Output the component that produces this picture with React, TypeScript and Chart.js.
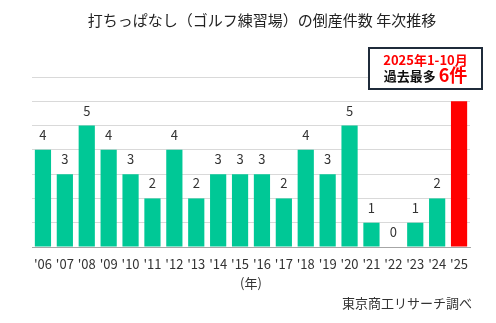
import React, { useEffect, useRef } from "react";
import { Chart, registerables } from "chart.js";

Chart.register(...registerables);

const categories = ["'06", "'07", "'08", "'09", "'10", "'11", "'12", "'13", "'14", "'15", "'16", "'17", "'18", "'19", "'20", "'21", "'22", "'23", "'24", "'25"];
const values = [4, 3, 5, 4, 3, 2, 4, 2, 3, 3, 3, 2, 4, 3, 5, 1, 0, 1, 2, 6];
const titleText = "打ちっぱなし（ゴルフ練習場）の倒産件数 年次推移";
const noteLine1 = "2025年1-10月";
const noteLine2a = "過去最多 ";
const noteLine2b = "6件";
const axisUnit = "(年)";
const sourceText = "東京商工リサーチ調べ";

const FONT = '"Noto Sans CJK JP", "Noto Sans", sans-serif';
const GREEN = "#00c896";
const RED = "#ff0000";

const overlayPlugin = {
  id: "overlay",
  afterDatasetsDraw(chart: any) {
    const ctx = chart.ctx;
    const area = chart.chartArea;
    const meta = chart.getDatasetMeta(0);
    ctx.save();
    // data labels
    ctx.fillStyle = "#333333";
    ctx.font = `13px ${FONT}`;
    ctx.textAlign = "center";
    ctx.textBaseline = "middle";
    meta.data.forEach((bar: any, i: number) => {
      if (i === values.length - 1) return;
      ctx.fillText(String(values[i]), bar.x, bar.y - 15);
    });
    ctx.restore();
  },
  afterDraw(chart: any) {
    const ctx = chart.ctx;
    const area = chart.chartArea;
    const w = chart.width;
    ctx.save();
    // title
    ctx.fillStyle = "#222222";
    ctx.font = `15px ${FONT}`;
    ctx.textAlign = "center";
    ctx.textBaseline = "middle";
    ctx.fillText(titleText, 262, 20);

    // unit label
    ctx.font = `13px ${FONT}`;
    ctx.fillStyle = "#333333";
    ctx.fillText(axisUnit, (area.left + area.right) / 2, 283);

    // source
    ctx.textAlign = "right";
    ctx.fillText(sourceText, area.right + 2, 303);

    // annotation box
    const bx = 369, by = 48, bw = 113, bh = 41;
    ctx.fillStyle = "#ffffff";
    ctx.fillRect(bx, by, bw, bh);
    ctx.strokeStyle = "#1f2b3a";
    ctx.lineWidth = 2;
    ctx.strokeRect(bx, by, bw, bh);
    const cx = bx + bw / 2;
    ctx.textAlign = "center";
    ctx.fillStyle = RED;
    ctx.font = `bold 13px ${FONT}`;
    ctx.fillText(noteLine1, cx, 60);
    ctx.font = `bold 13px ${FONT}`;
    const wa = ctx.measureText(noteLine2a).width;
    ctx.font = `bold 18px ${FONT}`;
    const wb = ctx.measureText(noteLine2b).width;
    const start = cx - (wa + wb) / 2;
    ctx.textAlign = "left";
    ctx.textBaseline = "alphabetic";
    ctx.fillStyle = "#111111";
    ctx.font = `bold 13px ${FONT}`;
    ctx.fillText(noteLine2a, start, 81);
    ctx.fillStyle = RED;
    ctx.font = `bold 18px ${FONT}`;
    ctx.fillText(noteLine2b, start + wa, 82);
    ctx.restore();
  },
};

export default function App() {
  const ref = useRef<HTMLCanvasElement | null>(null);
  useEffect(() => {
    document.body.style.margin = "0";
    const chart = new Chart(ref.current as HTMLCanvasElement, {
      type: "bar",
      data: {
        labels: categories,
        datasets: [
          {
            data: values,
            backgroundColor: values.map((_, i) => (i === values.length - 1 ? RED : GREEN)),
            barPercentage: 0.74,
            categoryPercentage: 1,
          },
        ],
      },
      options: {
        animation: false,
        responsive: false,
        maintainAspectRatio: false,
        layout: { padding: { left: 32, right: 26, top: 77, bottom: 0 } },
        plugins: {
          legend: { display: false },
          title: { display: false },
          tooltip: { enabled: false },
        },
        scales: {
          x: {
            grid: { display: false, drawTicks: false },
            border: { display: true, color: "#a6a6a6", width: 1 },
            ticks: {
              color: "#333333",
              font: { family: FONT, size: 13 },
              padding: 9,
              maxRotation: 0,
              autoSkip: false,
            },
            afterFit(scale: any) {
              scale.height = 76;
            },
          },
          y: {
            min: 0,
            max: 7,
            ticks: { display: false, stepSize: 1 },
            grid: { color: "#d9d9d9", drawTicks: false, lineWidth: 1 },
            border: { display: false },
            afterFit(scale: any) {
              scale.width = 0;
            },
          },
        },
      },
      plugins: [overlayPlugin],
    });
    return () => chart.destroy();
  }, []);
  return (
    <div style={{ width: 496, height: 323 }}>
      <canvas ref={ref} width={496} height={323} style={{ display: "block" }} />
    </div>
  );
}
